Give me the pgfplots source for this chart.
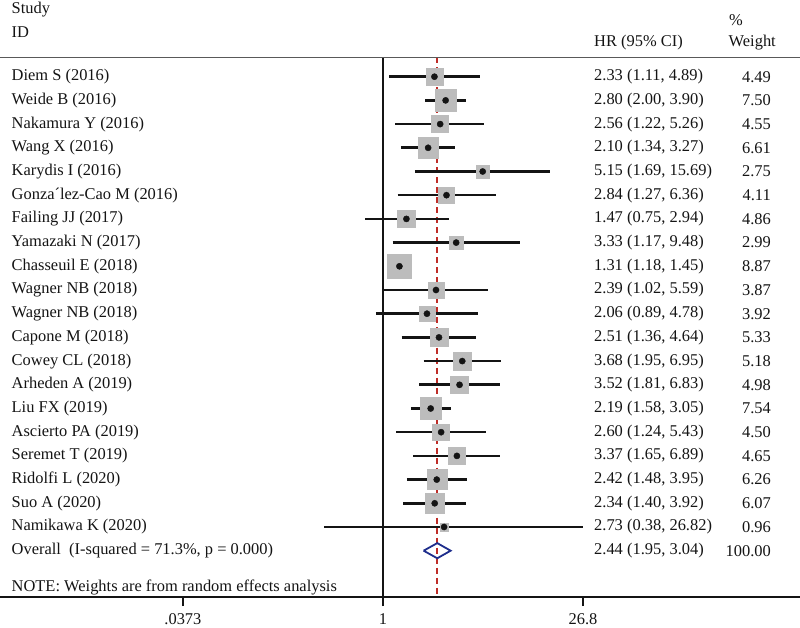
\documentclass[border=0pt]{standalone}
\usepackage{pgfplots}
\usepackage{pgfplotstable}
\pgfplotsset{compat=1.18}
\usepackage{fontspec}
\setmainfont{Liberation Serif}

\definecolor{boxgray}{RGB}{188,188,188}
\definecolor{nullred}{RGB}{190,45,40}
\definecolor{dmdblue}{RGB}{30,45,140}
\definecolor{ink}{RGB}{20,20,20}

% y = -row, hazard ratio, % weight
\pgfplotstableread{
y hr w
-1 2.33 4.49
-2 2.80 7.50
-3 2.56 4.55
-4 2.10 6.61
-5 5.15 2.75
-6 2.84 4.11
-7 1.47 4.86
-8 3.33 2.99
-9 1.31 8.87
-10 2.39 3.87
-11 2.06 3.92
-12 2.51 5.33
-13 3.68 5.18
-14 3.52 4.98
-15 2.19 7.54
-16 2.60 4.50
-17 3.37 4.65
-18 2.42 6.26
-19 2.34 6.07
-20 2.73 0.96
}\studies

% confidence intervals, one segment per study
\pgfplotstableread{
x y
1.11 -1
4.89 -1
nan nan
2.00 -2
3.90 -2
nan nan
1.22 -3
5.26 -3
nan nan
1.34 -4
3.27 -4
nan nan
1.69 -5
15.69 -5
nan nan
1.27 -6
6.36 -6
nan nan
0.75 -7
2.94 -7
nan nan
1.17 -8
9.48 -8
nan nan
1.18 -9
1.45 -9
nan nan
1.02 -10
5.59 -10
nan nan
0.89 -11
4.78 -11
nan nan
1.36 -12
4.64 -12
nan nan
1.95 -13
6.95 -13
nan nan
1.81 -14
6.83 -14
nan nan
1.58 -15
3.05 -15
nan nan
1.24 -16
5.43 -16
nan nan
1.65 -17
6.89 -17
nan nan
1.48 -18
3.95 -18
nan nan
1.40 -19
3.92 -19
nan nan
0.38 -20
26.82 -20
}\cis

\begin{document}
\begin{tikzpicture}
\useasboundingbox (0,0) rectangle (800bp,-628bp);
\begin{axis}[
  at={(0,0)}, anchor=north west,
  scale only axis, width=800bp, height=597bp,
  xmode=log, xmin=0.001844, xmax=948.5,
  ymin=-22.954, ymax=2.236,
  axis x line*=bottom, axis y line=none,
  x axis line style={-, line width=1.3bp, ink},
  xtick={0.0373,1,26.8}, xticklabels={.0373,1,26.8},
  tick align=outside, major tick length=9bp, minor tick length=0pt,
  xtick style={line width=1.3bp, ink},
  xticklabel style={font=\fontsize{16.5}{20}\selectfont, text=ink, yshift=-4bp},
  clip=false,
  unbounded coords=jump,
]
% null line and overall estimate line
\addplot[ink, line width=1.4bp] coordinates {(1,-0.19) (1,-22.954)};
\addplot[nullred, line width=1.7bp, dash pattern=on 6bp off 4bp] coordinates {(2.44,-0.19) (2.44,-22.954)};
% weight boxes, area proportional to weight
\addplot[scatter, only marks, mark=square*, draw=boxgray, fill=boxgray,
  visualization depends on={\thisrow{w} \as \wt},
  scatter/@pre marker code/.code={%
    \pgfmathsetmacro\msz{4*sqrt(\wt)}%
    \scope[mark size=\msz pt, draw=boxgray, fill=boxgray]},
  scatter/@post marker code/.code={\endscope}]
  table[x=hr, y=y] {\studies};
% CIs
\addplot[ink, line width=2.6bp] table[x=x, y=y] {\cis};
% point estimates
\addplot[only marks, mark=*, mark size=3.1bp, ink] table[x=hr, y=y] {\studies};
% overall diamond
\addplot[dmdblue, line width=1.8bp, line join=miter] coordinates {
  (1.95,-21) (2.44,-20.68) (3.04,-21) (2.44,-21.32) (1.95,-21)};
\end{axis}

\begin{scope}[x=1bp, y=-1bp, every node/.style={inner sep=0pt, text=ink},
  font=\fontsize{16.5}{20}\selectfont]
\draw[line width=1.2bp, black!65] (0,57.5) -- (800,57.5);
\node[anchor=west] at (11.5,10) {Study};
\node[anchor=west] at (11.5,32) {ID};
\node[anchor=west] at (594,43) {HR (95\% CI)};
\node[anchor=west] at (729,20) {\%};
\node[anchor=east] at (776,43) {Weight};
\foreach \name/\est/\wt [count=\i] in {
  {Diem S (2016)}/{2.33 (1.11, 4.89)}/4.49,
  {Weide B (2016)}/{2.80 (2.00, 3.90)}/7.50,
  {Nakamura Y (2016)}/{2.56 (1.22, 5.26)}/4.55,
  {Wang X (2016)}/{2.10 (1.34, 3.27)}/6.61,
  {Karydis I (2016)}/{5.15 (1.69, 15.69)}/2.75,
  {Gonza´lez-Cao M (2016)}/{2.84 (1.27, 6.36)}/4.11,
  {Failing JJ (2017)}/{1.47 (0.75, 2.94)}/4.86,
  {Yamazaki N (2017)}/{3.33 (1.17, 9.48)}/2.99,
  {Chasseuil E (2018)}/{1.31 (1.18, 1.45)}/8.87,
  {Wagner NB (2018)}/{2.39 (1.02, 5.59)}/3.87,
  {Wagner NB (2018)}/{2.06 (0.89, 4.78)}/3.92,
  {Capone M (2018)}/{2.51 (1.36, 4.64)}/5.33,
  {Cowey CL (2018)}/{3.68 (1.95, 6.95)}/5.18,
  {Arheden A (2019)}/{3.52 (1.81, 6.83)}/4.98,
  {Liu FX (2019)}/{2.19 (1.58, 3.05)}/7.54,
  {Ascierto PA (2019)}/{2.60 (1.24, 5.43)}/4.50,
  {Seremet T (2019)}/{3.37 (1.65, 6.89)}/4.65,
  {Ridolfi L (2020)}/{2.42 (1.48, 3.95)}/6.26,
  {Suo A (2020)}/{2.34 (1.40, 3.92)}/6.07,
  {Namikawa K (2020)}/{2.73 (0.38, 26.82)}/0.96,
  {Overall\ \ (I-squared = 71.3\%, p = 0.000)}/{2.44 (1.95, 3.04)}/100.00}{
  \pgfmathsetmacro{\yy}{76.7+(\i-1)*23.7}
  \node[anchor=west] at (11.5,\yy) {\name};
  \node[anchor=west] at (594,\yy) {\est};
  \node[anchor=east] at (771,\yy) {\wt};
}
\node[anchor=west] at (11.5,587) {NOTE: Weights are from random effects analysis};
\end{scope}
\end{tikzpicture}
\end{document}
